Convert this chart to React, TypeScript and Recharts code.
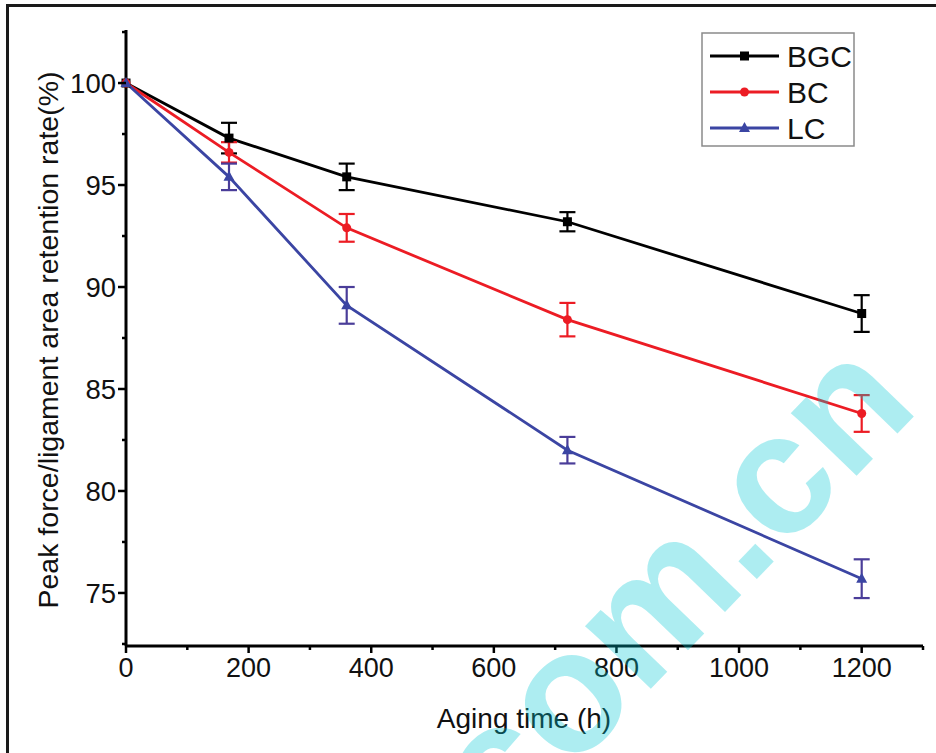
import React from "react";
import { LineChart, Line, XAxis, YAxis, ErrorBar } from "recharts";

// aging time (h)
const hours = [0, 168, 360, 720, 1200];

// retention rate (%) and error (+/-) per sample
const bgc = [100, 97.3, 95.4, 93.2, 88.7];
const bgcErr = [0, 0.75, 0.65, 0.47, 0.9];
const bc = [100, 96.6, 92.9, 88.4, 83.8];
const bcErr = [0, 0.5, 0.68, 0.82, 0.9];
const lc = [100, 95.4, 89.1, 82.0, 75.7];
const lcErr = [0, 0.65, 0.9, 0.65, 0.95];

const xTicks = [0, 100, 200, 300, 400, 500, 600, 700, 800, 900, 1000, 1100, 1200, 1300];
const yTicks = [72.5, 75, 77.5, 80, 82.5, 85, 87.5, 90, 92.5, 95, 97.5, 100, 102.5];

const FONT = "'Liberation Sans', Arial, sans-serif";

const data = hours.map((h, i) => ({
  h,
  bgc: bgc[i],
  bgcErr: bgcErr[i],
  bc: bc[i],
  bcErr: bcErr[i],
  lc: lc[i],
  lcErr: lcErr[i],
}));

const series = [
  { key: "bgc", name: "BGC", color: "#000000", errColor: "#000000", shape: "square" },
  { key: "bc", name: "BC", color: "#ec1c24", errColor: "#ec1c24", shape: "circle" },
  { key: "lc", name: "LC", color: "#3b45a3", errColor: "#4a3d99", shape: "triangle" },
];

function Marker({ cx, cy, shape, color }: any) {
  if (cx == null || cy == null) return null;
  if (shape === "square") return <rect x={cx - 4.5} y={cy - 4.5} width={9} height={9} fill={color} />;
  if (shape === "circle") return <circle cx={cx} cy={cy} r={4.5} fill={color} />;
  return <polygon points={`${cx},${cy - 6} ${cx - 5.5},${cy + 4} ${cx + 5.5},${cy + 4}`} fill={color} />;
}

const XTick = ({ x, y, payload }: any) => {
  const major = payload.value % 200 === 0;
  return (
    <g>
      <line x1={x} y1={y} x2={x} y2={y + (major ? 7 : 4)} stroke="#000" strokeWidth={2.5} />
      {major && (
        <text x={x} y={y + 31} textAnchor="middle" fontSize={27} fontFamily={FONT} fill="#111">
          {payload.value}
        </text>
      )}
    </g>
  );
};

const YTick = ({ x, y, payload }: any) => {
  const major = payload.value % 5 === 0;
  return (
    <g>
      <line x1={x} y1={y} x2={x - (major ? 8 : 4)} y2={y} stroke="#000" strokeWidth={2.5} />
      {major && (
        <text x={x - 10} y={y} dy="0.36em" textAnchor="end" fontSize={27.5} fontFamily={FONT} fill="#111">
          {payload.value}
        </text>
      )}
    </g>
  );
};

export default function App() {
  return (
    <div style={{ position: "absolute", left: 0, top: 0, width: 936, height: 753, background: "#fff", overflow: "hidden" }}>
      <div
        style={{
          position: "absolute",
          left: 6,
          top: 4,
          width: 940,
          height: 760,
          borderLeft: "3px solid #1a1a1a",
          borderTop: "3px solid #1a1a1a",
        }}
      />
      <LineChart width={936} height={753} data={data} margin={{ top: 30, right: 13, left: 0, bottom: 47 }}>
        <XAxis
          dataKey="h"
          type="number"
          domain={[0, 1300]}
          ticks={xTicks}
          interval={0}
          tick={<XTick />}
          tickLine={false}
          tickSize={0}
          tickMargin={0}
          height={60}
          axisLine={{ stroke: "#000", strokeWidth: 3 }}
        />
        <YAxis
          type="number"
          domain={[72.4, 102.6]}
          ticks={yTicks}
          interval={0}
          tick={<YTick />}
          tickLine={false}
          tickSize={0}
          tickMargin={0}
          width={126}
          axisLine={{ stroke: "#000", strokeWidth: 3 }}
        />
        {series.map((s) => (
          <Line
            key={s.key}
            dataKey={s.key}
            name={s.name}
            type="linear"
            stroke={s.color}
            strokeWidth={2.8}
            isAnimationActive={false}
            dot={(p: any) => <Marker key={`${s.key}-${p.index}`} cx={p.cx} cy={p.cy} shape={s.shape} color={s.color} />}
            activeDot={false}
          >
            <ErrorBar dataKey={`${s.key}Err`} direction="y" width={8} stroke={s.errColor} strokeWidth={2.2} />
          </Line>
        ))}
      </LineChart>
      <svg width={936} height={753} style={{ position: "absolute", left: 0, top: 0, pointerEvents: "none" }}>
        <text
          transform="translate(58, 340) rotate(-90)"
          textAnchor="middle"
          fontSize={28.5}
          fontFamily={FONT}
          fill="#111"
        >
          Peak force/ligament area retention rate(%)
        </text>
        <text x={524} y={728} textAnchor="middle" fontSize={28} fontFamily={FONT} fill="#111">
          Aging time (h)
        </text>
        <rect x={702} y={33} width={152} height={113} fill="#fff" stroke="#8a8a8a" strokeWidth={1.5} />
        {series.map((s, i) => {
          const cy = 56 + i * 36;
          return (
            <g key={s.key}>
              <line x1={710} y1={cy} x2={779} y2={cy} stroke={s.color} strokeWidth={3} />
              <Marker cx={744.5} cy={cy} shape={s.shape} color={s.color} />
              <text x={787} y={cy} dy="0.36em" fontSize={30} fontFamily={FONT} fill="#111">
                {s.name}
              </text>
            </g>
          );
        })}
        <text
          transform="translate(503, 842) rotate(-46)"
          fontSize={172}
          fontWeight="bold"
          fontFamily={FONT}
          fill="#00c8d2"
          fillOpacity={0.32}
        >
          com.cn
        </text>
      </svg>
    </div>
  );
}
